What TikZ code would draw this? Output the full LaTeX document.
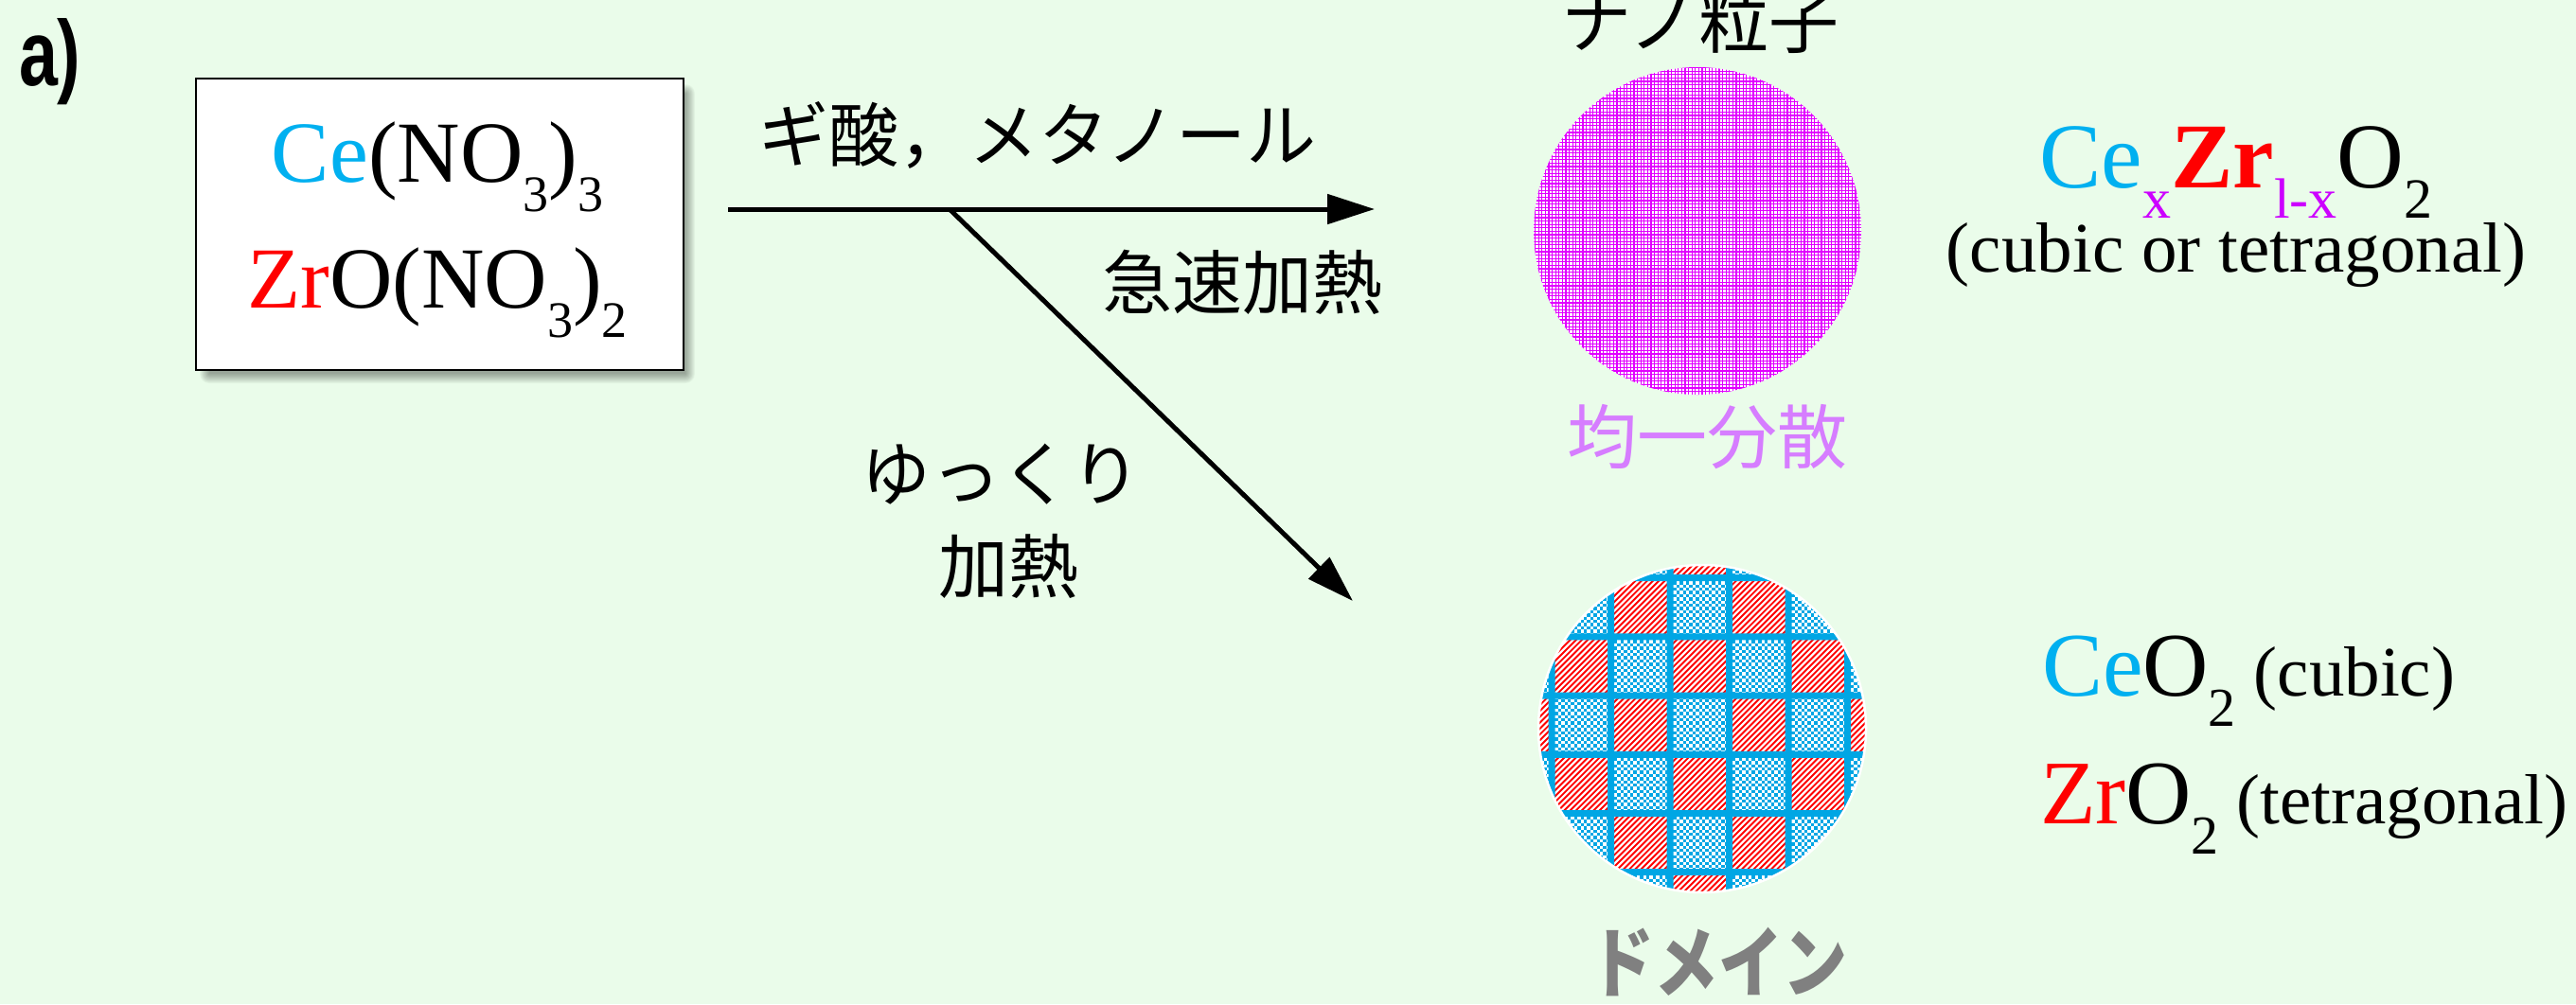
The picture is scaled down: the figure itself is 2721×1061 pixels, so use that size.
\documentclass[tikz,border=0pt]{standalone}
\usepackage{fontspec}
\usepackage{graphicx}
\setmainfont{Liberation Serif}
\newfontfamily\jpfont{Noto Sans CJK JP}
\newfontfamily\labfont{Liberation Sans}
\usetikzlibrary{arrows.meta}

\definecolor{paper}{RGB}{234,252,234}
\definecolor{ceblue}{RGB}{0,176,240}
\definecolor{zrred}{RGB}{255,0,0}
\definecolor{subpink}{RGB}{204,0,255}
\definecolor{gridpink}{RGB}{225,0,255}
\definecolor{lilac}{RGB}{214,125,255}
\definecolor{domblue}{RGB}{0,166,228}
\definecolor{labgray}{RGB}{128,128,128}

\newcommand\fsz[1]{\fontsize{#1pt}{#1pt}\selectfont}
% lowered index: [drop]{size}{text}
\newcommand\lowsub[3][32pt]{\raisebox{-#1}{\fsz{#2}#3}}

\begin{document}
\begin{tikzpicture}[x=1pt,y=-1pt,
  txt/.style={inner sep=0pt, outer sep=0pt},
  jp/.style={txt, font={\jpfont\fsz{74}}},
  arr/.style={line width=5pt, -{Triangle[length=50pt,width=31pt]}},
  hatch/.style={zrred, line width=1.9pt},
  checker/.style={domblue, line width=3.4pt, dash pattern=on 3.4pt off 3.4pt},
]
\fill[paper] (0,0) rectangle (2721,1061);
\useasboundingbox (0,0) rectangle (2721,1061);

% panel label
\node[txt, anchor=base west] (lab) at (20,90)
  {\scalebox{0.75}[1]{\labfont\bfseries\fsz{98}a)}};

% soft shadow of the precursor box
\foreach \i in {0,...,10}
  \fill[black, opacity=0.035, rounded corners=\i pt]
    (221-\i,99-\i) rectangle (724+\i,395+\i);

% precursor box
\node[draw=black, line width=1.5pt, fill=white, minimum width=515pt,
      minimum height=308pt, inner sep=0pt] (src) at (464.5,237) {};
\node[txt, anchor=base] (ce) at (462,192)
  {\fsz{92}\textcolor{ceblue}{Ce}(NO\lowsub[31pt]{54}{3})\lowsub[31pt]{54}{3}};
\node[txt, anchor=base] (zr) at (462,325)
  {\fsz{92}\textcolor{zrred}{Zr}O(NO\lowsub[31pt]{54}{3})\lowsub[31pt]{54}{2}};

% reaction arrows
\coordinate (h0) at (769,221);
\coordinate (h1) at (1452,221);
\coordinate (b0) at (1004,222);
\coordinate (b1) at (1429,635);
\draw[arr] (h0) -- (h1);
\draw[arr] (b0) -- (b1);

\node[jp] (reag) at (1096,143) {ギ酸，メタノール};
\node[jp] (fast) at (1312,298) {急速加熱};
\node[jp] (slow1) at (1057,501) {ゆっくり};
\node[jp] (slow2) at (1065,598) {加熱};

% homogeneous nanoparticle
\coordinate (np) at (1793,244);
\node[jp] (nptitle) at (1796,22) {ナノ粒子};
\begin{scope}
  \clip (np) circle (173);
  \fill[white] (np) circle (173);
  \draw[gridpink, line width=1.2pt]
    \foreach \k in {0,...,98} {(1618+3.6*\k,68) -- ++(0,352) (1618,68+3.6*\k) -- ++(352,0)};
\end{scope}
\node[jp, text=lilac] (uni) at (1803,462) {均一分散};

% domain particle
\coordinate (dom) at (1798,770);
\begin{scope}
  \clip (dom) circle (173);
  \fill[white] (dom) circle (173);
  \foreach \r in {0,...,6}{
    \foreach \c in {0,...,6}{
      \pgfmathsetmacro\xa{1576.5+62.5*\c}
      \pgfmathsetmacro\ya{548.5+62.2*\r}
      \pgfmathtruncatemacro\parity{mod(\r+\c,2)}
      \ifnum\parity=1
        \begin{scope}
          \clip (\xa,\ya) rectangle ++(62.5,62.2);
          \draw[hatch] \foreach \k in {0,...,22} {(\xa-68+6.2*\k,\ya+66) -- ++(72,-72)};
        \end{scope}
      \else
        \begin{scope}
          \clip (\xa,\ya) rectangle ++(62.5,62.2);
          \foreach \k in {0,2,...,18} \draw[checker] (\xa,\ya+1.7+3.4*\k) -- ++(63,0);
          \foreach \k in {1,3,...,17} \draw[checker, dash phase=3.4pt] (\xa,\ya+1.7+3.4*\k) -- ++(63,0);
        \end{scope}
      \fi
    }
  }
  \fill[domblue] \foreach \j in {0,...,5} {(1639+62.5*\j-3.5,590) rectangle ++(7,362)};
  \fill[domblue] \foreach \i in {0,...,5} {(1620,610.7+62.2*\i-3.5) rectangle ++(360,7)};
\end{scope}
\draw[white, line width=2.5pt] (dom) circle (173);
\node[jp, text=labgray] (domlab) at (1815,1016)
  {\scalebox{1}[1.2]{\jpfont\bfseries\fsz{68}ドメイン}};

% products
\node[txt, anchor=base] (mix) at (2362,198)
  {\fsz{98}\textcolor{ceblue}{Ce}\lowsub{60}{\textcolor{subpink}{x}}\textcolor{zrred}{\bfseries Zr}\lowsub{60}{\textcolor{subpink}{l-x}}O\lowsub{60}{2}};
\node[txt, anchor=base] (mixph) at (2362,287) {\fsz{75}(cubic or tetragonal)};

\node[txt, anchor=base west] (ceo) at (2157,735)
  {\fsz{96}\textcolor{ceblue}{Ce}O\lowsub{58}{2}\fsz{75} (cubic)};
\node[txt, anchor=base west] (zro) at (2155,870)
  {\fsz{96}\textcolor{zrred}{Zr}O\lowsub{58}{2}\fsz{75} (tetragonal)};
\end{tikzpicture}
\end{document}
